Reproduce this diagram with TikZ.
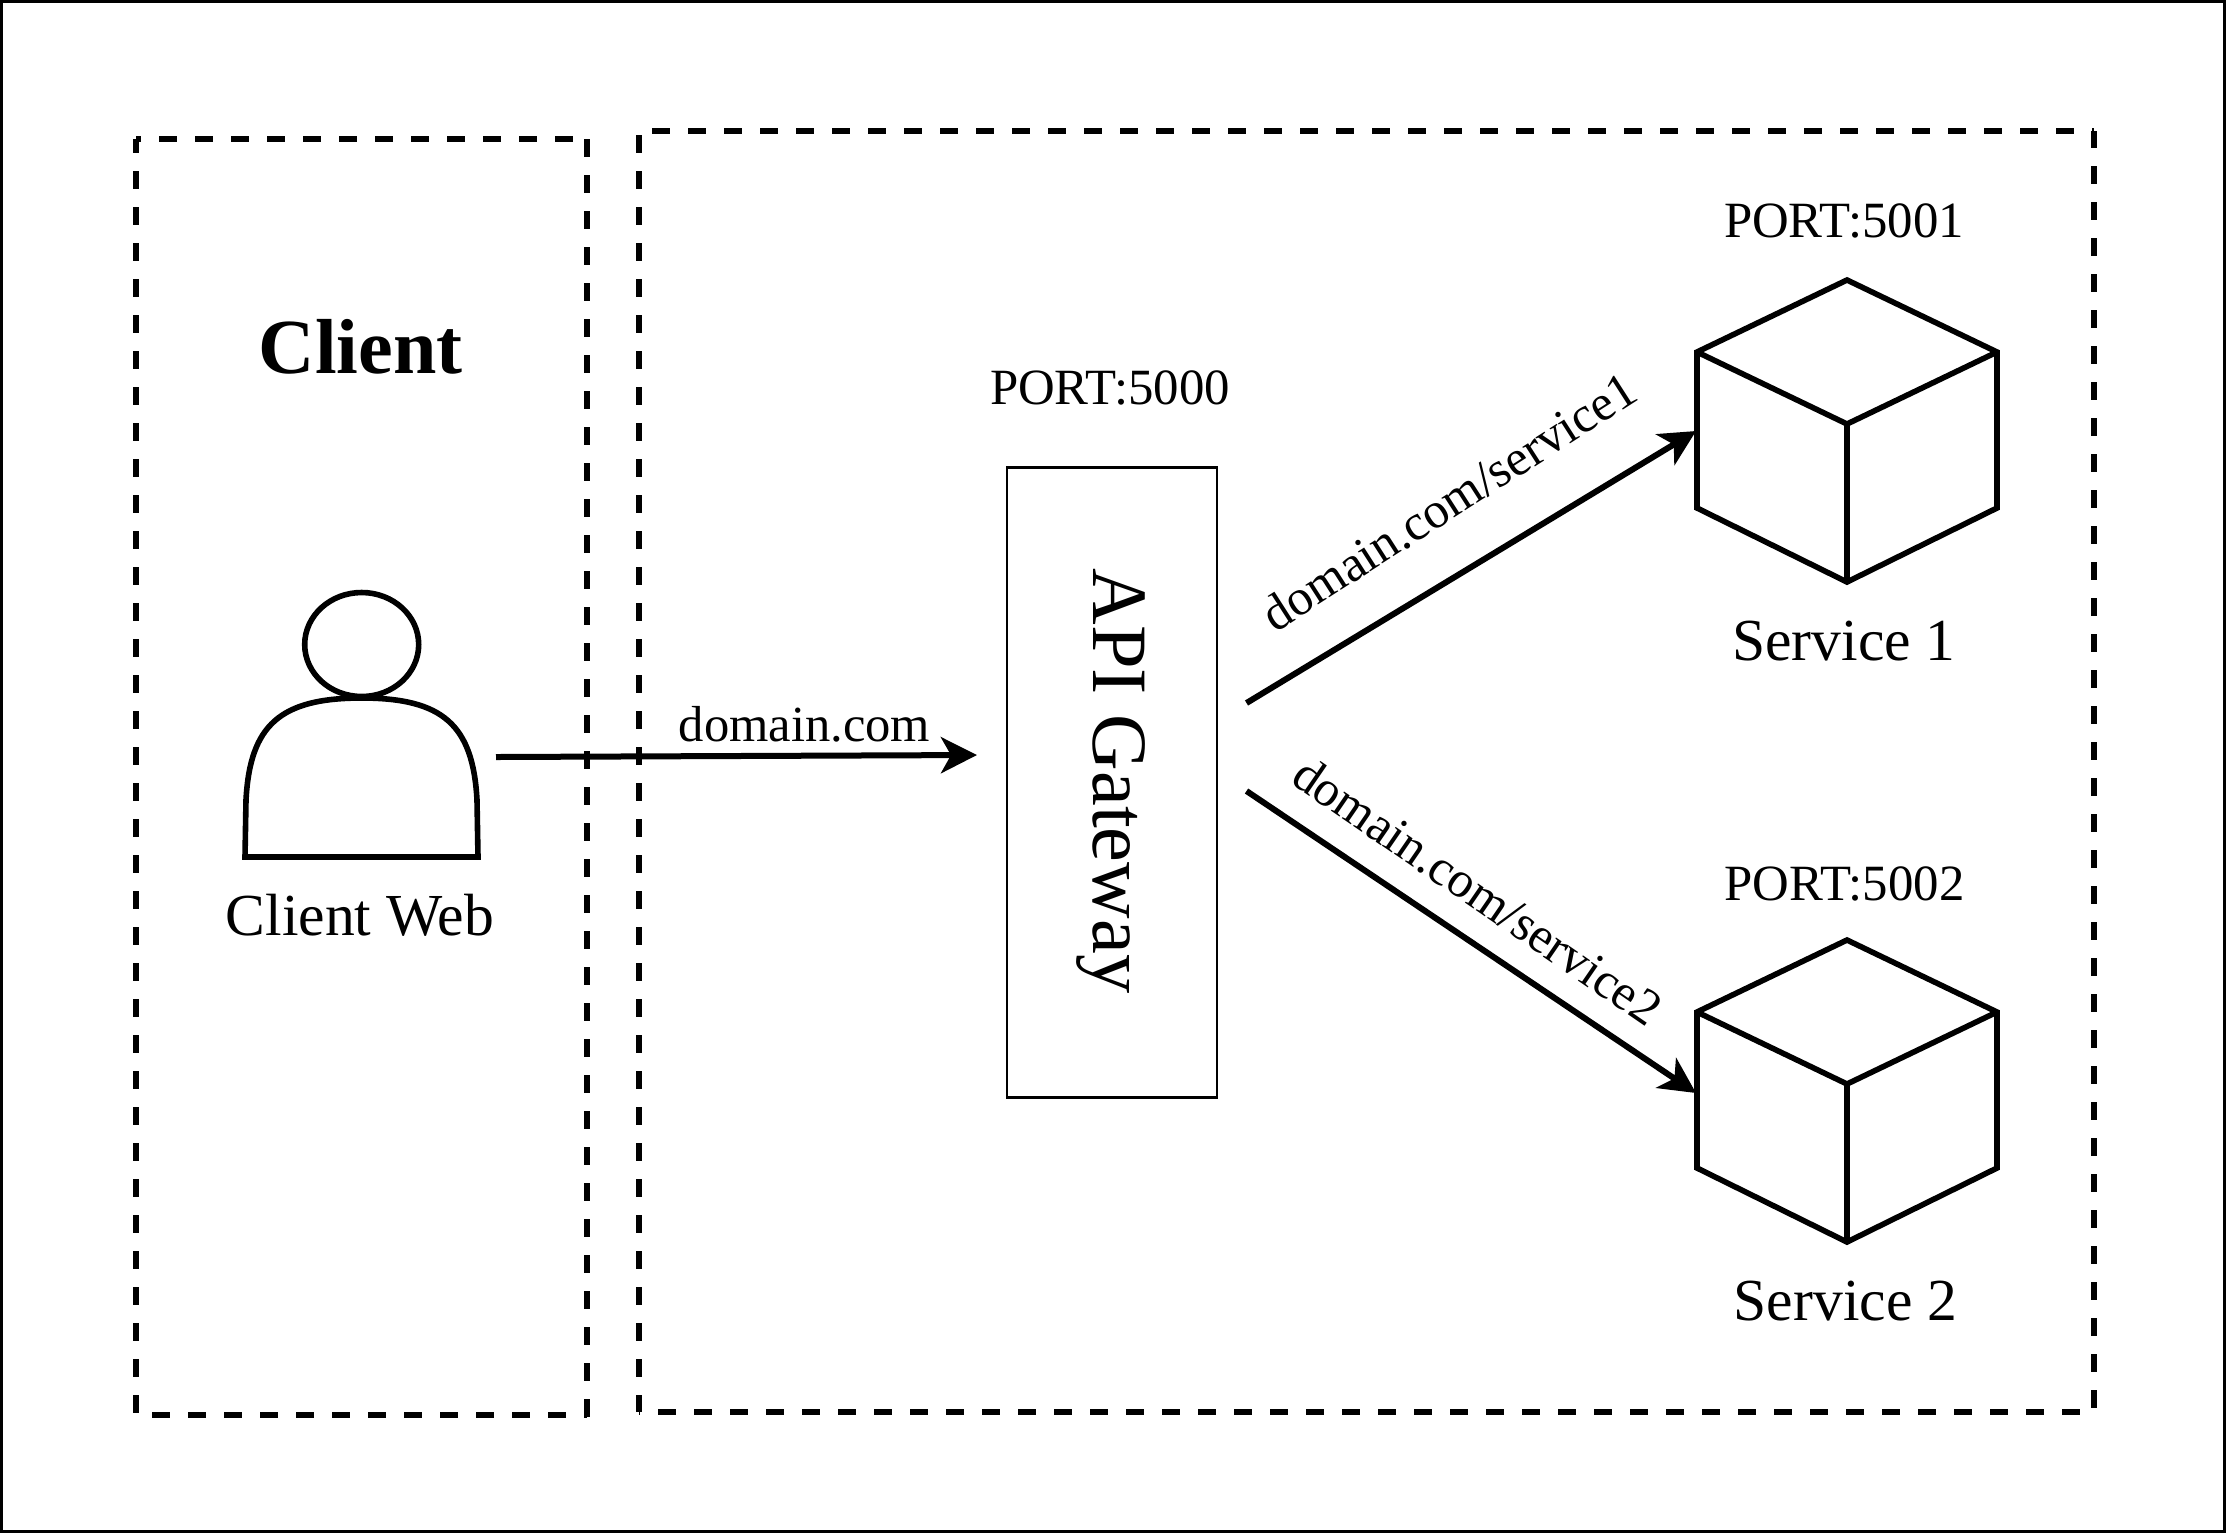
\documentclass[tikz,border=0pt]{standalone}
\usepackage{fontspec}
\setmainfont{Liberation Serif}
\usetikzlibrary{arrows.meta,shapes.geometric}
\newcommand{\fs}[1]{\fontsize{#1}{#1}\selectfont}
\tikzset{
  x=0.5pt,y=-0.5pt,
  frameline/.style={draw=black,line width=1.5pt},
  groupside/.style={draw=black,line width=3pt,dash pattern=on 9pt off 9pt,dash phase=#1},
  gatebox/.style={draw=black,line width=1.4pt},
  solidshape/.style={draw=black,line width=2.8pt,line join=miter},
  flow/.style={draw=black,line width=3pt,-{Stealth[length=18pt,width=18pt,inset=5pt]}},
  txt/.style={inner sep=0pt,anchor=base,font=\fs{29.8}},
  porttxt/.style={inner sep=0pt,anchor=base,font=\fs{25.4}},
  linktxt/.style={inner sep=0pt,anchor=base,font=\fs{25.3}},
}
\begin{document}
\begin{tikzpicture}
\useasboundingbox (0,0) rectangle (2226,1533);
\draw[frameline] (1.5,1.5) rectangle (2224.5,1531.5);
% client group
\coordinate (a1) at (136,139); \coordinate (a2) at (587,139);
\coordinate (a3) at (587,1418); \coordinate (a4) at (136,1415); \coordinate (a5) at (587,1415);
\draw[groupside=6.5pt] (a1) -- (a2);
\draw[groupside=2pt] (a1) -- (a4);
\draw[groupside=0pt] (a2) -- (a3);
\draw[groupside=10pt] (a4) -- (a5);
% services group
\coordinate (b1) at (638.5,131); \coordinate (b2) at (2094,131);
\coordinate (b3) at (2094,1412); \coordinate (b4) at (638.5,1412);
\draw[groupside=11.25pt] (b1) -- (b2);
\draw[groupside=16pt] (b1) -- (b4);
\draw[groupside=0.5pt] (b2) -- (b3);
\draw[groupside=8.25pt] (b4) -- (b3);
% person
\node[solidshape,ellipse,inner sep=0pt,minimum width=57pt,minimum height=52pt] (head) at (361.7,644.5) {};
\draw[solidshape] (245,857) -- (246,800) .. controls (250,725) and (280,698) .. (361.7,698) .. controls (443,698) and (473,725) .. (477,800) -- (478,857) -- cycle;
\node[txt] (clientweb) at (360,935) {Client Web};
\node[inner sep=0pt,anchor=base,font=\fs{39}\bfseries] (clienttitle) at (360.6,373) {Client};
% gateway
\node[gatebox,inner sep=0pt,minimum width=105pt,minimum height=315pt] (gateway) at (1112,782.5) {};
\node[inner sep=0pt,anchor=base,font=\fs{39.2},rotate=-90] (gatewaytxt) at (1093,781) {API Gateway};
\node[porttxt] (port0) at (1110,404.5) {PORT:5000};
% cubes
\foreach \dy in {0,660}{
  \begin{scope}[yshift=-0.5*\dy pt]
    \draw[solidshape] (1847,280) -- (1997,352) -- (1997,508) -- (1847,582) -- (1697,508) -- (1697,352) -- cycle;
    \draw[solidshape] (1697,352) -- (1847,424) -- (1997,352) (1847,424) -- (1847,582);
  \end{scope}
}
\node[porttxt] (port1) at (1844,237) {PORT:5001};
\node[txt] (svc1) at (1844,660) {Service 1};
\node[porttxt] (port2) at (1844.5,900) {PORT:5002};
\node[txt] (svc2) at (1845.5,1320) {Service 2};
% connectors
\coordinate (pout) at (496,757);
\coordinate (gin) at (977,755);
\coordinate (gout1) at (1246.5,703);
\coordinate (gout2) at (1246.5,791);
\coordinate (c1in) at (1696,431);
\coordinate (c2in) at (1696,1093);
\draw[flow] (pout) -- (gin);
\draw[flow] (gout1) -- (c1in);
\draw[flow] (gout2) -- (c2in);
\node[linktxt] (l0) at (804.5,741) {domain.com};
\node[linktxt,rotate=32.7] (l1) at (1458,516) {domain.com/service1};
\node[linktxt,rotate=-34.5] (l2) at (1468,905) {domain.com/service2};
\end{tikzpicture}
\end{document}
